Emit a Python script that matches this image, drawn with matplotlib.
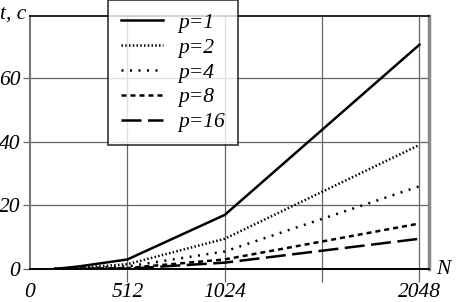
import matplotlib
matplotlib.use("Agg")
import matplotlib.pyplot as plt

N = [128, 256, 512, 1024, 2048]
t_p1 = [0.0, 0.8, 3.0, 17.0, 70.5]
t_p2 = [0.0, 0.4, 1.5, 9.5, 39.0]
t_p4 = [0.0, 0.2, 0.8, 5.5, 26.0]
t_p8 = [0.0, 0.1, 0.3, 3.0, 14.3]
t_p16 = [0.0, 0.05, 0.1, 2.0, 9.5]
labels = ["p=1", "p=2", "p=4", "p=8", "p=16"]
xticks = [0, 512, 1024, 2048]
xgrid = [512, 1024, 1536, 2048]
yticks = [0, 20, 40, 60]

plt.rcParams['font.family'] = ['Liberation Serif']
plt.rcParams['font.style'] = 'italic'
FS = 15.5

fig = plt.figure(figsize=(4.58, 3.02), dpi=100)
ax = fig.add_axes([30/458, 1-269/302, (429-30)/458, (269-16)/302])

styles = [
    dict(ls='-', lw=1.8),
    dict(ls=(0, (0.6, 0.9)), lw=1.8),
    dict(ls=(0, (0.8, 2.6)), lw=1.8),
    dict(ls=(0, (2.0, 1.6)), lw=1.8),
    dict(ls=(0, (8, 2.6)), lw=1.8),
]
series = [t_p1, t_p2, t_p4, t_p8, t_p16]
handles = []
for s, st, lab in zip(series, styles, labels):
    h, = ax.plot(N, s, color='black', label=lab, zorder=3, **st)
    handles.append(h)

ax.set_xlim(0, 2098)
ax.set_ylim(0, 79.5)
ax.set_xticks(xgrid)
ax.set_xticklabels([])
ax.set_yticks(yticks)
ax.set_yticklabels([str(v) for v in yticks], fontsize=FS)
ax.tick_params(axis='x', length=9, color='#666666', width=0.9)
ax.tick_params(axis='y', length=5, color='#666666', width=0.9, pad=2)
ax.grid(True, color='#666666', lw=0.9)
for x in xticks:
    ax.text(x, -8.9, str(x), ha='center', va='baseline', fontsize=FS, style='italic')

ax.spines['left'].set_color('#777777')
ax.spines['left'].set_linewidth(1.5)
ax.spines['right'].set_color('#888888')
ax.spines['right'].set_linewidth(2.5)
ax.spines['top'].set_color('black')
ax.spines['top'].set_linewidth(1.2)
ax.spines['bottom'].set_color('black')
ax.spines['bottom'].set_linewidth(1.4)

fig.text(0/458, 1-19/302, 't, c', fontsize=FS, style='italic', ha='left', va='baseline')
fig.text(443/458, 1-270/302, 'N', fontsize=FS, style='italic', ha='center', va='center')

leg = fig.legend(handles=handles, loc='upper left',
                 bbox_to_anchor=(108/458, 1.0), frameon=True, fancybox=False,
                 edgecolor='black', fontsize=FS, handlelength=1.95,
                 handletextpad=0.7, labelspacing=0.22, borderpad=0.6,
                 borderaxespad=0)
leg.get_frame().set_linewidth(1.2)
leg.set_zorder(5)

fig.savefig('out.png', dpi=100)
